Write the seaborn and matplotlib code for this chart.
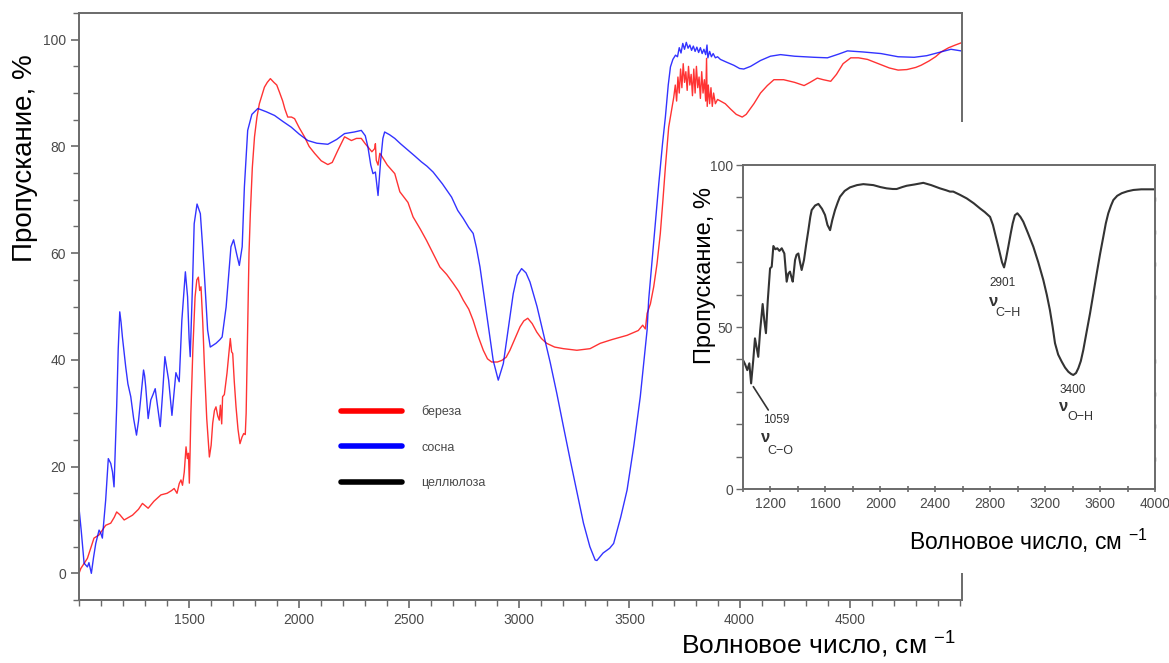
import pandas as pd
import seaborn as sns
import matplotlib.pyplot as plt
from matplotlib.lines import Line2D
from matplotlib.patches import Rectangle
from matplotlib.ticker import MultipleLocator, FixedLocator

sns.set_theme(style='white')
plt.rcParams['font.family'] = ['Liberation Sans', 'DejaVu Sans']
plt.rcParams['mathtext.fontset'] = 'custom'
plt.rcParams['mathtext.rm'] = 'Liberation Sans'
plt.rcParams['mathtext.default'] = 'regular'

# береза (red)
birch_wn = [1000, 1008, 1038, 1068, 1091, 1121, 1144, 1160, 1171, 1185, 1205, 1243, 1270, 1288, 1314, 1340,
            1372, 1400, 1420, 1432, 1445, 1455, 1463, 1470, 1478, 1486, 1492, 1497, 1501, 1504, 1508, 1517,
            1527, 1535, 1542, 1548, 1554, 1562, 1569, 1580, 1592, 1600, 1607, 1615, 1622, 1630, 1637, 1642,
            1648, 1652, 1660, 1672, 1680, 1687, 1693, 1698, 1705, 1713, 1722, 1731, 1740, 1748, 1755, 1759,
            1766, 1772, 1778, 1787, 1797, 1808, 1819, 1830, 1842, 1855, 1869, 1885, 1898, 1910, 1925, 1935,
            1948, 1965, 1979, 2000, 2024, 2045, 2070, 2100, 2130, 2150, 2176, 2206, 2237, 2260, 2282, 2300,
            2312, 2330, 2343, 2346, 2350, 2358, 2366, 2373, 2400, 2434, 2457, 2494, 2517, 2550, 2578, 2610,
            2639, 2670, 2700, 2725, 2745, 2770, 2790, 2812, 2836, 2855, 2874, 2900, 2920, 2940, 2957, 2980,
            3003, 3020, 3038, 3058, 3079, 3100, 3124, 3160, 3200, 3261, 3321, 3367, 3420, 3489, 3540, 3560,
            3572, 3580, 3595, 3610, 3625, 3640, 3652, 3663, 3678, 3690, 3701,
            3708, 3714, 3720, 3726, 3732, 3738, 3744, 3750, 3756, 3762, 3768, 3774, 3780, 3786, 3792, 3798,
            3804, 3810, 3816, 3822, 3828, 3834, 3840, 3846, 3850, 3853, 3858, 3864, 3870, 3876, 3882, 3890,
            3900, 3913, 3935, 3959, 3985, 4012, 4030, 4065, 4095, 4126, 4156, 4200, 4250, 4293, 4320, 4353,
            4380, 4414, 4440, 4470, 4505, 4540, 4581, 4630, 4680, 4720, 4760, 4800, 4824, 4860, 4890, 4915,
            4950, 4980, 5006]
birch_t = [0.0, 0.9, 2.8, 6.6, 7.2, 9.0, 9.4, 10.5, 11.5, 11.0, 10.0, 10.9, 12.0, 13.1, 12.2, 13.5,
           14.7, 15.0, 15.5, 15.9, 15.0, 16.8, 17.5, 16.5, 19.0, 23.7, 21.5, 22.5, 16.9, 22.0, 30.0, 42.0,
           51.8, 55.0, 55.5, 53.0, 53.7, 47.0, 39.3, 29.0, 21.8, 24.0, 28.1, 30.5, 31.2, 29.5, 28.7, 31.5,
           28.0, 33.1, 33.5, 37.5, 41.0, 44.0, 41.5, 41.2, 36.0, 31.2, 27.0, 24.3, 25.5, 26.2, 26.0, 30.0,
           45.6, 60.0, 67.4, 76.0, 81.8, 85.5, 88.0, 89.5, 91.1, 92.0, 92.7, 92.0, 91.5, 90.2, 88.5, 87.0,
           85.5, 85.5, 85.2, 83.5, 81.8, 80.0, 78.7, 77.3, 76.6, 77.0, 79.3, 81.8, 81.1, 81.5, 81.5, 80.5,
           79.9, 79.0, 79.6, 80.5, 77.4, 76.5, 78.7, 78.3, 76.5, 74.9, 71.5, 69.5, 66.8, 64.5, 62.4, 59.8,
           57.4, 56.0, 54.3, 52.8, 51.2, 49.5, 47.4, 44.5, 41.8, 40.2, 39.6, 39.6, 39.9, 40.5, 41.8, 44.0,
           46.2, 47.3, 47.8, 46.8, 45.2, 44.0, 43.1, 42.4, 42.1, 41.8, 42.1, 43.1, 43.8, 44.6, 45.5, 46.5,
           45.8, 48.7, 50.5, 53.7, 58.0, 63.7, 70.0, 76.1, 83.6, 86.5, 89.2,
           91.5, 88.5, 93.0, 90.0, 94.5, 91.0, 95.5, 92.0, 94.0, 90.5, 95.0, 91.5, 93.5, 89.5, 94.5, 90.0,
           95.0, 91.0, 93.0, 89.0, 94.0, 90.0, 92.5, 88.5, 96.5, 87.5, 91.5, 88.0, 91.0, 87.5, 90.0, 88.0,
           88.8, 88.5, 88.0, 87.0, 86.0, 85.5, 86.0, 88.0, 90.0, 91.4, 92.5, 92.5, 92.0, 91.4, 92.0, 92.8,
           92.5, 92.2, 93.5, 95.5, 96.6, 96.6, 96.3, 95.5, 94.7, 94.3, 94.4, 94.8, 95.2, 96.0, 96.8, 97.7,
           98.5, 99.0, 99.4]

# сосна (blue)
pine_wn = [1000, 1010, 1023, 1038, 1045, 1056, 1066, 1076, 1091, 1099, 1106, 1121, 1133, 1144, 1152, 1159,
           1165, 1171, 1178, 1185, 1191, 1197, 1212, 1222, 1235, 1248, 1261, 1270, 1278, 1293, 1298, 1303,
           1314, 1326, 1336, 1346, 1356, 1369, 1380, 1390, 1407, 1422, 1432, 1440, 1455, 1467, 1483, 1493,
           1500, 1505, 1516, 1523, 1536, 1551, 1560, 1569, 1584, 1596, 1622, 1640, 1650, 1668, 1690, 1702,
           1715, 1728, 1741, 1751, 1766, 1785, 1812, 1850, 1888, 1925, 1964, 2000, 2039, 2080, 2130, 2170,
           2206, 2250, 2282, 2300, 2312, 2325, 2335, 2346, 2352, 2358, 2364, 2370, 2380, 2388, 2410, 2434,
           2460, 2494, 2525, 2555, 2580, 2608, 2650, 2692, 2720, 2745, 2770, 2790, 2805, 2821, 2851, 2881,
           2904, 2927, 2950, 2972, 2990, 3010, 3030, 3048, 3080, 3109, 3140, 3170, 3200, 3231, 3260, 3291,
           3320, 3344, 3352, 3380, 3410, 3428, 3460, 3489, 3520, 3549, 3580, 3587, 3610, 3633, 3650, 3663,
           3676, 3686, 3697, 3709,
           3718, 3726, 3734, 3742, 3750, 3758, 3766, 3774, 3782, 3790, 3798, 3806, 3814, 3822, 3830, 3838,
           3846, 3852, 3856, 3864, 3872, 3880, 3890, 3900, 3913,
           3940, 3974, 4000, 4019, 4050, 4095, 4140, 4186, 4250, 4338, 4399, 4450, 4490, 4560, 4642, 4720,
           4793, 4850, 4915, 4960, 5006]
pine_t = [12.2, 8.0, 1.9, 1.2, 2.0, 0.0, 3.0, 5.6, 8.1, 7.5, 6.6, 13.7, 21.5, 20.6, 19.0, 16.2,
          24.0, 31.2, 42.0, 49.0, 47.0, 44.3, 38.7, 35.5, 33.1, 29.0, 25.9, 28.5, 31.8, 38.1, 37.0, 34.9,
          29.0, 32.5, 33.5, 34.6, 31.5, 27.5, 34.0, 40.6, 36.2, 29.6, 34.0, 37.6, 35.9, 47.4, 56.5, 51.8,
          44.0, 40.6, 54.9, 65.5, 69.2, 67.4, 62.0, 56.2, 45.6, 42.4, 43.1, 43.8, 44.3, 49.9, 61.2, 62.5,
          60.0, 57.7, 61.2, 72.4, 83.0, 86.0, 87.1, 86.5, 85.8, 84.7, 83.6, 82.3, 81.1, 80.6, 80.4, 81.3,
          82.4, 82.7, 83.0, 82.0, 79.9, 76.5, 74.9, 75.2, 73.0, 70.8, 74.0, 77.4, 81.5, 82.7, 82.2, 81.5,
          80.5, 79.3, 78.2, 77.1, 76.3, 75.2, 73.0, 70.5, 68.0, 66.5, 64.8, 63.7, 61.0, 57.4, 48.7, 39.9,
          36.2, 39.3, 46.0, 52.4, 55.8, 57.1, 56.3, 54.6, 50.0, 44.9, 39.5, 33.7, 27.5, 21.2, 15.5, 9.4,
          5.0, 2.5, 2.4, 3.8, 4.7, 5.6, 10.5, 15.6, 24.0, 33.1, 45.6, 51.2, 62.0, 73.0, 80.5, 85.5,
          91.5, 94.9, 96.3, 97.1,
          96.8, 98.5, 97.5, 99.3, 98.2, 99.5, 98.4, 99.0, 98.0, 98.8, 97.8, 98.6, 97.6, 98.5, 97.4, 98.2,
          97.2, 99.0, 96.6, 97.8, 96.8, 97.4, 96.6, 96.8, 96.3,
          95.8, 95.2, 94.6, 94.5, 95.0, 96.1, 96.9, 97.2, 96.9, 96.7, 96.6, 97.3, 97.9, 97.7, 97.4, 96.8,
          96.7, 97.0, 97.7, 98.2, 97.9]

# целлюлоза (inset, black)
cell_wn = [1000, 1015, 1031, 1046, 1059, 1075, 1087, 1100, 1111, 1125, 1143, 1155, 1167, 1180, 1197, 1209,
           1221, 1235, 1250, 1265, 1282, 1301, 1310, 1318, 1330, 1342, 1352, 1362, 1370, 1379, 1390, 1403,
           1415, 1427, 1444, 1460, 1476, 1490, 1500, 1525, 1549, 1575, 1597, 1615, 1634, 1650, 1670, 1690,
           1706, 1740, 1779, 1830, 1876, 1949, 2000, 2046, 2090, 2119, 2160, 2192, 2250, 2313, 2370, 2434,
           2480, 2507, 2531, 2580, 2629, 2680, 2726, 2760, 2799, 2820, 2835, 2855, 2871, 2886, 2901, 2915,
           2932, 2950, 2964, 2980, 2998, 3020, 3041, 3075, 3114, 3150, 3187, 3212, 3235, 3255, 3272, 3295,
           3321, 3345, 3369, 3390, 3405, 3425, 3442, 3460, 3478, 3500, 3527, 3550, 3576, 3600, 3624, 3642,
           3660, 3680, 3697, 3725, 3758, 3800, 3843, 3900, 3988, 4000]
cell_t = [39.8, 38.5, 36.7, 38.8, 32.6, 40.0, 46.5, 43.5, 40.8, 49.0, 57.1, 52.0, 48.1, 58.0, 68.1, 68.6,
          75.0, 74.0, 74.3, 73.5, 74.3, 72.7, 68.0, 64.0, 66.5, 67.1, 65.5, 64.0, 67.0, 70.7, 72.3, 72.7,
          70.0, 67.6, 70.7, 75.5, 79.9, 84.0, 86.1, 87.5, 88.0, 86.5, 84.6, 81.5, 79.9, 83.0, 86.1, 88.5,
          90.2, 92.0, 93.1, 93.8, 94.1, 93.8, 93.2, 92.8, 92.6, 92.6, 93.2, 93.6, 94.0, 94.5, 93.8, 92.8,
          92.2, 91.8, 91.8, 90.8, 89.7, 88.2, 86.6, 85.5, 84.0, 81.5, 78.9, 75.5, 72.7, 70.0, 68.4, 71.0,
          74.8, 79.0, 82.0, 84.5, 85.1, 84.0, 82.5, 79.0, 74.8, 70.0, 64.5, 60.0, 55.2, 50.0, 45.0, 41.5,
          39.3, 37.5, 36.2, 35.5, 35.2, 35.8, 37.3, 39.5, 42.9, 48.0, 54.2, 60.0, 66.6, 72.5, 77.9, 82.0,
          85.1, 87.5, 89.2, 90.5, 91.3, 91.9, 92.3, 92.5, 92.5, 92.5]

legend_labels = ['береза', 'сосна', 'целлюлоза']
series_colors = ['#ff0000', '#0000ff', '#000000']

birch = pd.DataFrame({'wn': birch_wn, 't': birch_t})
pine = pd.DataFrame({'wn': pine_wn, 't': pine_t})
cell = pd.DataFrame({'wn': cell_wn, 't': cell_t})

spine_c = '#6a6a6a'
tick_c = '#4a4a4a'

fig = plt.figure(figsize=(11.69, 6.63), dpi=100)
ax = fig.add_axes([0.0676, 0.095, 0.7553, 0.8854])
sns.lineplot(data=birch, x='wn', y='t', ax=ax, color=series_colors[0], lw=1.0, alpha=0.8,
             sort=False, estimator=None)
sns.lineplot(data=pine, x='wn', y='t', ax=ax, color=series_colors[1], lw=1.0, alpha=0.8,
             sort=False, estimator=None)
ax.set_xlim(1000, 5010)
ax.set_ylim(-5, 105)
ax.xaxis.set_major_locator(FixedLocator([1500, 2000, 2500, 3000, 3500, 4000, 4500]))
ax.xaxis.set_minor_locator(MultipleLocator(100))
ax.yaxis.set_major_locator(FixedLocator([0, 20, 40, 60, 80, 100]))
ax.yaxis.set_minor_locator(MultipleLocator(5))
ax.tick_params(which='both', direction='out', color=spine_c, labelcolor=tick_c, labelsize=10,
               bottom=True, left=True)
ax.tick_params(which='major', length=6, width=1.2)
ax.tick_params(which='minor', length=4, width=1.0)
for s in ax.spines.values():
    s.set_color(spine_c)
    s.set_linewidth(1.4)
ax.set_xlabel('Волновое число, см $^{-1}$', fontsize=19, color='black')
ax.set_ylabel('Пропускание, %', fontsize=20, color='black')
ax.xaxis.set_label_coords(0.838, -0.05)
ax.yaxis.set_label_coords(-0.046, 0.753)

handles = [Line2D([], [], color=c, lw=4) for c in series_colors]
ax.legend(handles, legend_labels, loc='upper left', bbox_to_anchor=(341 / 1169, 1 - 405 / 663),
          bbox_transform=fig.transFigure, frameon=False, fontsize=9, labelcolor=tick_c,
          handlelength=4.9, handletextpad=1.5, labelspacing=1.9, borderpad=0, borderaxespad=0)

# white area behind the inset
fig.patches.append(Rectangle((0.5817, 0.1357), 0.4183, 0.680, transform=fig.transFigure,
                             facecolor='white', edgecolor='none', zorder=1))

ins = fig.add_axes([0.6356, 0.2624, 0.3524, 0.4887])
ins.set_zorder(2)
sns.lineplot(data=cell, x='wn', y='t', ax=ins, color='#333333', lw=1.5, sort=False, estimator=None)
ins.set_xlim(1000, 4000)
ins.set_ylim(0, 100)
ins.xaxis.set_major_locator(FixedLocator([1200, 1600, 2000, 2400, 2800, 3200, 3600, 4000]))
ins.xaxis.set_minor_locator(MultipleLocator(200))
ins.yaxis.set_major_locator(FixedLocator([0, 50, 100]))
ins.yaxis.set_minor_locator(MultipleLocator(10))
ins.tick_params(axis='x', which='both', direction='inout', length=4, width=1.2, color=spine_c,
                labelcolor=tick_c, labelsize=10, bottom=True)
ins.tick_params(axis='y', which='both', direction='out', length=5, width=1.0, color=spine_c,
                labelcolor=tick_c, labelsize=10, left=True, pad=2)
ins.tick_params(axis='y', which='minor', right=True)
for t in ins.yaxis.get_minor_ticks():
    t.tick2line.set_marker(3)
    t.tick2line.set_markersize(3)
for s in ins.spines.values():
    s.set_color(spine_c)
    s.set_linewidth(1.4)
ins.set_xlabel('Волновое число, см $^{-1}$', fontsize=16.5, color='black')
ins.set_ylabel('Пропускание, %', fontsize=17, color='black')
ins.xaxis.set_label_coords(0.692, -0.117)
ins.yaxis.set_label_coords(-0.066, 0.66)

ann_kw = dict(fontsize=8.5, color='#333333', ha='center', va='center')
nu_kw = dict(fontsize=12, fontweight='bold', color='#333333', ha='center', va='center')
sub_kw = dict(fontsize=9, color='#333333', ha='center', va='center')
ins.text(1245, 21.2, '1059', **ann_kw)
ins.text(1167, 16.0, 'ν', **nu_kw)
ins.text(1269, 11.8, 'C−O', **sub_kw)
ins.plot([1075, 1184], [31.6, 24.4], color='#333333', lw=1.2)
ins.text(2893, 63.5, '2901', **ann_kw)
ins.text(2823, 58.0, 'ν', **nu_kw)
ins.text(2932, 54.2, 'C−H', **sub_kw)
ins.text(3403, 30.6, '3400', **ann_kw)
ins.text(3337, 25.6, 'ν', **nu_kw)
ins.text(3454, 22.1, 'O−H', **sub_kw)

fig.savefig('out.png', dpi=100)
